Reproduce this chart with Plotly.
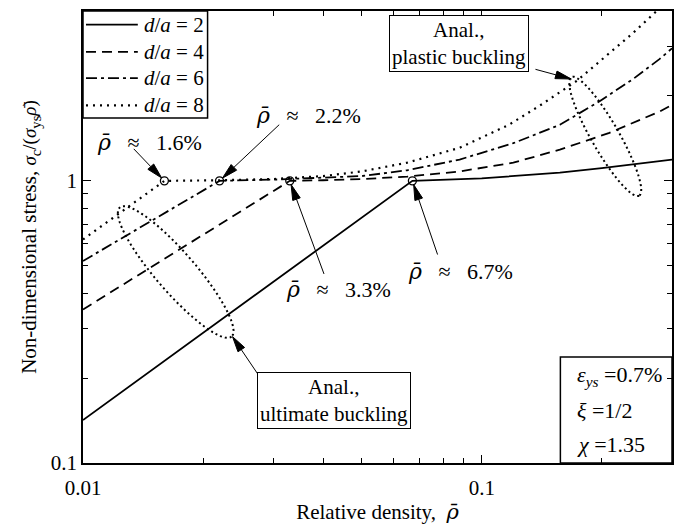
import numpy as np
import plotly.graph_objects as go

# Relative density vs. normalised stress for each d/a ratio
rho_da2 = [0.01, 0.067, 0.1, 0.157, 0.2, 0.279, 0.3]
sig_da2 = [0.142, 1.0, 1.02, 1.07, 1.11, 1.17, 1.19]

rho_da4 = [0.01, 0.033, 0.04, 0.05, 0.065, 0.088, 0.12, 0.157, 0.209, 0.25, 0.279, 0.3]
sig_da4 = [0.35, 1.0, 1.005, 1.015, 1.035, 1.08, 1.16, 1.29, 1.48, 1.65, 1.76, 1.86]

rho_da6 = [0.01, 0.022, 0.03, 0.04, 0.05, 0.065, 0.088, 0.12, 0.157, 0.198, 0.24, 0.279, 0.3]
sig_da6 = [0.52, 1.0, 1.01, 1.025, 1.04, 1.09, 1.19, 1.36, 1.58, 1.92, 2.3, 2.7, 2.95]

rho_da8 = [0.01, 0.016, 0.022, 0.03, 0.04, 0.05, 0.065, 0.088, 0.117, 0.14, 0.173, 0.21, 0.24, 0.272, 0.3]
sig_da8 = [0.62, 1.0, 1.005, 1.015, 1.04, 1.08, 1.16, 1.31, 1.58, 1.85, 2.26, 2.85, 3.35, 3.95, 4.5]

# Transition densities (ultimate -> plastic buckling)
rho_trans = [0.016, 0.022, 0.033, 0.067]
sig_trans = [1.0, 1.0, 1.0, 1.0]
trans_labels = ["1.6%", "2.2%", "3.3%", "6.7%"]

ratios = ["2", "4", "6", "8"]

FONT = "Liberation Serif"
RHO_BAR = '<span style="font-family:DejaVu Serif;font-style:italic">ρ̄</span>'
W, H = 683, 529
ML, MR, MT, MB = 83, 9, 10, 54
PW, PH = W - ML - MR, H - MT - MB
X_RANGE = [-2, np.log10(0.3)]
Y_RANGE = [-1, np.log10(4)]


def to_paper(px, py):
    return (px - ML) / PW, (H - MB - py) / PH


def data_to_px(x, y):
    px = ML + PW * (np.log10(x) - X_RANGE[0]) / (X_RANGE[1] - X_RANGE[0])
    py = MT + PH * (1 - (np.log10(y) - Y_RANGE[0]) / (Y_RANGE[1] - Y_RANGE[0]))
    return px, py


def ellipse_path(p1, p2, semi_minor, n=90):
    (x1, y1), (x2, y2) = p1, p2
    cx, cy = (x1 + x2) / 2, (y1 + y2) / 2
    a = np.hypot(x2 - x1, y2 - y1) / 2
    ux, uy = (x2 - x1) / (2 * a), (y2 - y1) / (2 * a)
    vx, vy = -uy, ux
    t = np.linspace(0, 2 * np.pi, n)
    xs = cx + a * np.cos(t) * ux + semi_minor * np.sin(t) * vx
    ys = cy + a * np.cos(t) * uy + semi_minor * np.sin(t) * vy
    pts = [to_paper(x, y) for x, y in zip(xs, ys)]
    return "M " + " L ".join(f"{x:.4f},{y:.4f}" for x, y in pts) + " Z"


def arrow_shapes(tip, tail, head_len=16, half_w=4):
    """Straight leader line with a slender filled head at `tip` (pixel coords)."""
    tx, ty = tip
    sx, sy = tail
    d = np.hypot(tx - sx, ty - sy)
    ux, uy = (tx - sx) / d, (ty - sy) / d
    bx, by = tx - ux * head_len, ty - uy * head_len
    p0 = to_paper(sx, sy)
    p1 = to_paper(bx, by)
    h1 = to_paper(bx - uy * half_w, by + ux * half_w)
    h2 = to_paper(bx + uy * half_w, by - ux * half_w)
    tp = to_paper(tx, ty)
    line = dict(type="line", xref="paper", yref="paper",
                x0=p0[0], y0=p0[1], x1=p1[0], y1=p1[1],
                line=dict(color="black", width=1))
    head = dict(type="path", xref="paper", yref="paper",
                path=f"M {tp[0]:.4f},{tp[1]:.4f} L {h1[0]:.4f},{h1[1]:.4f} L {h2[0]:.4f},{h2[1]:.4f} Z",
                fillcolor="black", line=dict(color="black", width=1))
    return [line, head]


fig = go.Figure()

styles = [
    dict(dash="solid", width=1.8),
    dict(dash="10px,6px", width=1.8),
    dict(dash="11px,4px,3px,4px", width=1.8),
    dict(dash="2px,5px", width=2.2),
]
series = [(rho_da2, sig_da2), (rho_da4, sig_da4), (rho_da6, sig_da6), (rho_da8, sig_da8)]
for (xs, ys), ratio, ln in zip(series, ratios, styles):
    fig.add_trace(go.Scatter(
        x=xs, y=ys, mode="lines", showlegend=False,
        name=f"d/a = {ratio}",
        line=dict(color="black", **ln),
    ))

fig.add_trace(go.Scatter(
    x=rho_trans, y=sig_trans, mode="markers", showlegend=False,
    marker=dict(symbol="circle-open", size=8, color="black", line=dict(width=1.3)),
))

annotations = []
shapes = []

# legend box in the upper-left corner
leg_rows = [24, 52, 79, 107]
shapes.append(dict(type="rect", xref="paper", yref="paper",
                   x0=0, y0=to_paper(0, 120)[1], x1=to_paper(208, 0)[0], y1=1,
                   fillcolor="white", line=dict(color="black", width=1.5), layer="above"))
for ratio, ln, ry in zip(ratios, styles, leg_rows):
    xa, ya = to_paper(86, ry)
    xb, _ = to_paper(138, ry)
    shapes.append(dict(type="line", xref="paper", yref="paper", x0=xa, x1=xb, y0=ya, y1=ya,
                       line=dict(color="black", **ln), layer="above"))
    xt, _ = to_paper(142, ry)
    annotations.append(dict(
        x=xt, y=ya, xref="paper", yref="paper", xanchor="left", yanchor="middle",
        showarrow=False, text=f"<i>d</i>/<i>a</i> = {ratio}",
        font=dict(family=FONT, size=21, color="black"),
    ))

# density labels with leaders to the transition points
label_px = [(150, 145), (309, 118), (339, 296), (462, 278)]
tail_off = [(-28, -30), (57, -55), (33, 92), (24, 72)]
nb = "\u00a0" * 3
for (lx, ly), lab, xv, yv, (ox, oy) in zip(label_px, trans_labels, rho_trans, sig_trans, tail_off):
    px, py = to_paper(lx, ly)
    annotations.append(dict(
        x=px, y=py, xref="paper", yref="paper", xanchor="center", yanchor="middle",
        showarrow=False, text=f"{RHO_BAR}{nb}≈{nb}{lab}",
        font=dict(family=FONT, size=22, color="black"),
    ))
    cx, cy = data_to_px(xv, yv)
    n = np.hypot(ox, oy)
    tip = (cx + 4 * ox / n, cy + 4 * oy / n)
    shapes += arrow_shapes(tip, (tip[0] + ox, tip[1] + oy))

# boxed captions for the analytical regimes
for (bx, by), txt in [((460, 43), "Anal.,<br>plastic buckling"),
                      ((335, 411), "Anal.,<br>ultimate buckling")]:
    px, py = to_paper(bx, by)
    annotations.append(dict(
        x=px, y=py, xref="paper", yref="paper", xanchor="center", yanchor="middle",
        showarrow=False, text=txt, font=dict(family=FONT, size=21, color="black"),
        bordercolor="black", borderwidth=1, borderpad=2, bgcolor="white",
    ))
shapes += arrow_shapes((573, 80), (537, 70))
shapes += arrow_shapes((233, 345), (262, 389))

# ellipses grouping the two analytical regimes
shapes.append(dict(type="path", xref="paper", yref="paper",
                   path=ellipse_path((120, 212), (232, 345), 20),
                   line=dict(color="black", width=2, dash="2px,3px")))
shapes.append(dict(type="path", xref="paper", yref="paper",
                   path=ellipse_path((573, 78), (641, 200), 14),
                   line=dict(color="black", width=2, dash="2px,3px")))

# material parameters
shapes.append(dict(type="rect", xref="paper", yref="paper",
                   x0=to_paper(562, 0)[0], x1=1.0, y0=0.0, y1=to_paper(0, 366)[1],
                   line=dict(color="black", width=1.5)))
params = [
    ("<i>ε</i><sub><i>ys</i></sub> =0.7%", 386),
    ("<i>ξ</i> =1/2", 421),
    ("<i>χ</i> =1.35", 456),
]
for txt, py in params:
    xx, yy = to_paper(577, py)
    annotations.append(dict(
        x=xx, y=yy, xref="paper", yref="paper", xanchor="left", yanchor="middle",
        showarrow=False, text=txt, font=dict(family=FONT, size=22, color="black"),
    ))

axis_common = dict(
    type="log", showgrid=False, zeroline=False,
    showline=True, linecolor="black", linewidth=1.5, mirror="ticks",
    ticks="inside", ticklen=8, tickcolor="black", tickwidth=1,
    tickfont=dict(family=FONT, size=21, color="black"),
)

SMALL = 'style="font-size:19px;font-style:italic"'
y_title = (
    "Non-dimensional stress, "
    f"<span {SMALL}>σ</span><sub>c</sub>"
    '<span style="font-size:19px">/(</span>'
    f"<span {SMALL}>σ</span><sub>ys</sub>"
    f"<span {SMALL}>ρ̄</span>"
    '<span style="font-size:19px">)</span>'
)

fig.update_layout(
    width=W, height=H,
    margin=dict(l=ML, r=MR, t=MT, b=MB),
    plot_bgcolor="white", paper_bgcolor="white",
    font=dict(family=FONT, color="black"),
    showlegend=False,
    xaxis=dict(
        **axis_common,
        range=X_RANGE,
        tickvals=[0.01, 0.1], ticktext=["0.01", "0.1"],
        ticklabelstandoff=5,
        minor=dict(tickvals=[0.02, 0.03, 0.04, 0.05, 0.06, 0.07, 0.08, 0.09, 0.2, 0.3],
                   ticks="inside", ticklen=5, tickcolor="black"),
        title=dict(text=f"Relative density,  {RHO_BAR}",
                   font=dict(family=FONT, size=21, color="black"), standoff=5),
    ),
    yaxis=dict(
        **axis_common,
        range=Y_RANGE,
        tickvals=[0.1, 1], ticktext=["0.1", "1"],
        minor=dict(tickvals=[0.2, 0.3, 0.4, 0.5, 0.6, 0.7, 0.8, 0.9, 2, 3, 4],
                   ticks="inside", ticklen=5, tickcolor="black"),
        title=dict(text=y_title,
                   font=dict(family=FONT, size=21, color="black"), standoff=8),
    ),
    annotations=annotations,
    shapes=shapes,
)

fig.write_html("out.html")
